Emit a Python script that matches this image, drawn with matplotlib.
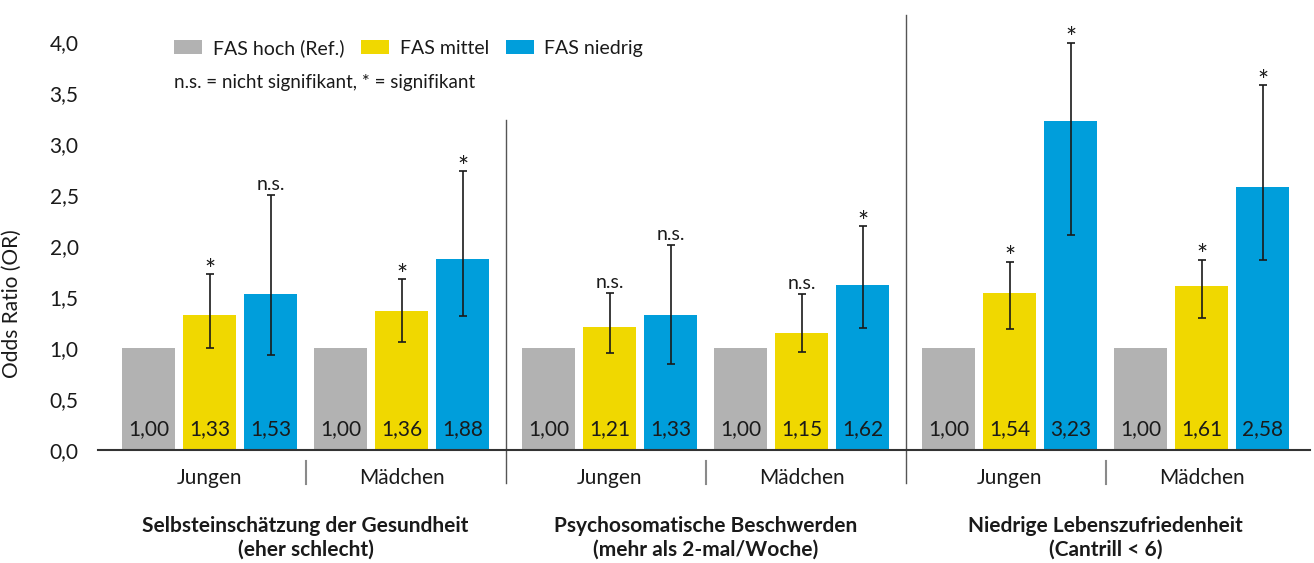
import matplotlib
matplotlib.use("Agg")
import matplotlib.pyplot as plt
from matplotlib.patches import Patch

plt.rcParams['font.family'] = ['Lato', 'DejaVu Sans']
plt.rcParams['font.size'] = 15

# Daten
panels = ['Selbsteinschätzung der Gesundheit\n(eher schlecht)',
          'Psychosomatische Beschwerden\n(mehr als 2-mal/Woche)',
          'Niedrige Lebenszufriedenheit\n(Cantrill < 6)']
gruppen = ['Jungen', 'Mädchen']
serien = ['FAS hoch (Ref.)', 'FAS mittel', 'FAS niedrig']

fas_hoch = [1.00, 1.00, 1.00, 1.00, 1.00, 1.00]
fas_mittel = [1.33, 1.36, 1.21, 1.15, 1.54, 1.61]
fas_niedrig = [1.53, 1.88, 1.33, 1.62, 3.23, 2.58]

mittel_ci_unten = [1.00, 1.06, 0.95, 0.96, 1.19, 1.30]
mittel_ci_oben = [1.73, 1.68, 1.54, 1.53, 1.85, 1.87]
niedrig_ci_unten = [0.93, 1.32, 0.84, 1.20, 2.11, 1.87]
niedrig_ci_oben = [2.50, 2.74, 2.01, 2.20, 4.00, 3.58]

mittel_sig = ['*', '*', 'n.s.', 'n.s.', '*', '*']
niedrig_sig = ['n.s.', '*', 'n.s.', '*', '*', '*']

farben = ['#b2b2b2', '#f0d800', '#009edb']
textfarbe = '#1a1a1a'

# Layout (Einheit = Abstand zwischen Balken)
PANEL = 6.557
GRUPPE = 3.148
BREITE = 0.87

fig = plt.figure(figsize=(13.14, 5.63), dpi=100)
ax = fig.add_axes([98 / 1314, 113 / 563, 1212 / 1314, 438 / 563])

mitten = []
for p in range(3):
    for g in range(2):
        mitten.append(p * PANEL + g * GRUPPE)

werte = [fas_hoch, fas_mittel, fas_niedrig]
for k in range(3):
    xs = [m + (k - 1) for m in mitten]
    ax.bar(xs, werte[k], width=BREITE, color=farben[k], zorder=2)
    for x, v in zip(xs, werte[k]):
        ax.text(x, 0.21, f"{v:.2f}".replace('.', ','), ha='center', va='center',
                color=textfarbe, fontsize=15, zorder=4)

# Konfidenzintervalle
for k, unten, oben, sig in [(1, mittel_ci_unten, mittel_ci_oben, mittel_sig),
                            (2, niedrig_ci_unten, niedrig_ci_oben, niedrig_sig)]:
    xs = [m + (k - 1) for m in mitten]
    mitte = [(u + o) / 2 for u, o in zip(unten, oben)]
    halb = [(o - u) / 2 for u, o in zip(unten, oben)]
    ax.errorbar(xs, mitte, yerr=halb, fmt='none', ecolor=textfarbe, elinewidth=1.2,
                capsize=3, capthick=1.2, zorder=3)
    for x, o, s in zip(xs, oben, sig):
        if s == '*':
            ax.annotate(s, (x, o), xytext=(0, 2), textcoords='offset points',
                        ha='center', va='center', fontsize=19, color=textfarbe)
        else:
            ax.annotate(s, (x, o), xytext=(0, 8), textcoords='offset points',
                        ha='center', va='center', fontsize=14, color=textfarbe)

ax.set_xlim(-1.828, 18.04)
ax.set_ylim(0, 4.3)
ax.set_yticks([i * 0.5 for i in range(9)])
ax.set_yticklabels([f"{i * 0.5:.1f}".replace('.', ',') for i in range(9)], color=textfarbe)
ax.tick_params(axis='y', length=0, pad=14)
ax.set_xticks([])
for s in ['top', 'right', 'left']:
    ax.spines[s].set_visible(False)
ax.spines['bottom'].set_color('#333333')
ax.spines['bottom'].set_linewidth(1.5)

ax.set_ylabel('Odds Ratio (OR)', color=textfarbe, fontsize=15)
ax.yaxis.set_label_coords(-0.0627, 0.335)

# Beschriftung und Trennlinien
px = 1 / 101.8
for p in range(3):
    for g in range(2):
        ax.text(mitten[p * 2 + g], -28 * px, gruppen[g], ha='center', va='center',
                color=textfarbe, fontsize=15)
    xm = (mitten[p * 2] + mitten[p * 2 + 1]) / 2
    ax.text(xm, -88 * px, panels[p], ha='center', va='center', color=textfarbe,
            fontsize=15, fontweight='bold', linespacing=1.25)
    ax.plot([xm, xm], [-11 * px, -34 * px], color='#8a8a8a', lw=1.5, clip_on=False)

x1 = (mitten[1] + mitten[2]) / 2
x2 = (mitten[3] + mitten[4]) / 2
ax.plot([x1, x1], [330 * px, -33 * px], color='#555555', lw=1, clip_on=False)
ax.plot([x2, x2], [435 * px, -33 * px], color='#555555', lw=1, clip_on=False)

# Legende
handles = [Patch(facecolor=c, edgecolor='none') for c in farben]
fig.legend(handles, serien, loc='upper left', bbox_to_anchor=(174 / 1314, 1 - 39 / 563),
           ncol=3, frameon=False, borderpad=0, borderaxespad=0, handlelength=1.45,
           handleheight=0.72, handletextpad=0.55, columnspacing=0.85, fontsize=14,
           labelcolor=textfarbe)
fig.text(174 / 1314, 1 - 83 / 563, 'n.s. = nicht signifikant, * = signifikant',
         ha='left', va='center', color=textfarbe, fontsize=13.5)

fig.savefig('out.png', dpi=100)
